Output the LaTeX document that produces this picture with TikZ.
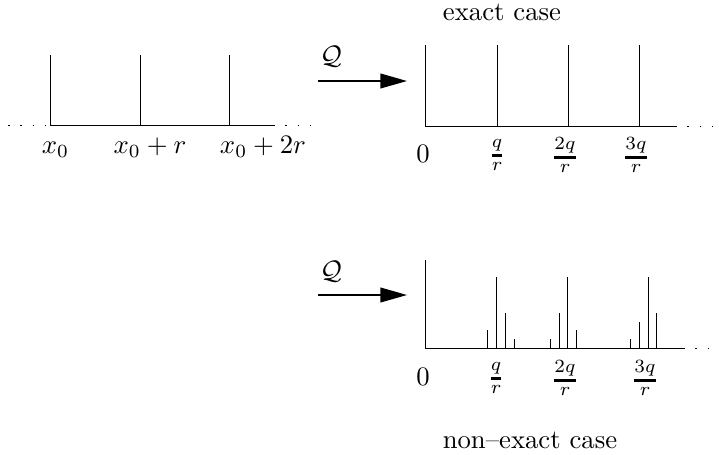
\documentclass[tikz,border=0pt]{standalone}
\usepackage{amsmath}
\usetikzlibrary{arrows.meta}
\newcommand{\thfrac}[2]{\genfrac{}{}{1.1pt}{}{#1}{#2}}
\begin{document}
\begin{tikzpicture}[x=0.3745pt,y=-0.3745pt,line width=0.7pt,
  dots/.style={loosely dotted,line width=0.6pt},
  qarrow/.style={-{Triangle[length=10pt,width=5.5pt]}},
  lbl/.style={inner sep=0pt,anchor=base},
  frc/.style={inner sep=0pt,anchor=center}]
\useasboundingbox (0,0) rectangle (719,455);

% ---- left plot ----
\draw (50.5,125.5) -- (273,125.5);
\draw[dots] (8,125.5) -- (50.5,125.5);
\draw[dots] (273,125.5) -- (315,125.5);
\foreach \x in {50.5,140.5,229.5} \draw (\x,125.5) -- (\x,55);
\node[lbl] (l0) at (55.5,153) {$x_0$};
\node[lbl] (l1) at (150,153) {$x_0+r$};
\node[lbl] (l2) at (263,153) {$x_0+2r$};

% ---- top right: exact case ----
\node[lbl] (exact) at (502,20) {exact case};
\coordinate (a1s) at (318,81);
\coordinate (a1e) at (407,81);
\draw[qarrow] (a1s) -- (a1e);
\node[frc] (q1) at (331,57) {$\mathcal{Q}$};
\draw (425.5,45) -- (425.5,126.5) -- (675,126.5);
\draw[dots] (675,126.5) -- (715,126.5);
\foreach \x in {497.5,568.5,639.5} \draw (\x,126.5) -- (\x,45);
\node[frc] (z1) at (423,153.5) {$0$};
\node[frc] (f11) at (497,155) {$\thfrac{q}{r}$};
\node[frc] (f12) at (565,155) {$\thfrac{2q}{r}$};
\node[frc] (f13) at (636,155) {$\thfrac{3q}{r}$};

% ---- bottom right: non-exact case ----
\coordinate (a2s) at (318,295);
\coordinate (a2e) at (407,295);
\draw[qarrow] (a2s) -- (a2e);
\node[frc] (q2) at (331,272) {$\mathcal{Q}$};
\draw (425.5,260) -- (425.5,348.5) -- (683,348.5);
\draw[dots] (683,348.5) -- (715,348.5);
\foreach \x/\y in {487.5/330.3, 496.5/276.7, 505.5/312.7, 514.5/339.3,
                   550.5/339.3, 559.5/312.7, 567.5/276.7, 576.5/330.3,
                   630.5/339.3, 639.5/321.7, 648.5/276.7, 656.5/312.7}
  \draw (\x,348.5) -- (\x,\y);
\node[frc] (z2) at (423,377) {$0$};
\node[frc] (f21) at (496,378) {$\thfrac{q}{r}$};
\node[frc] (f22) at (565,378) {$\thfrac{2q}{r}$};
\node[frc] (f23) at (645,378) {$\thfrac{3q}{r}$};
\node[lbl] (nonexact) at (530,448) {non--exact case};
\end{tikzpicture}
\end{document}
